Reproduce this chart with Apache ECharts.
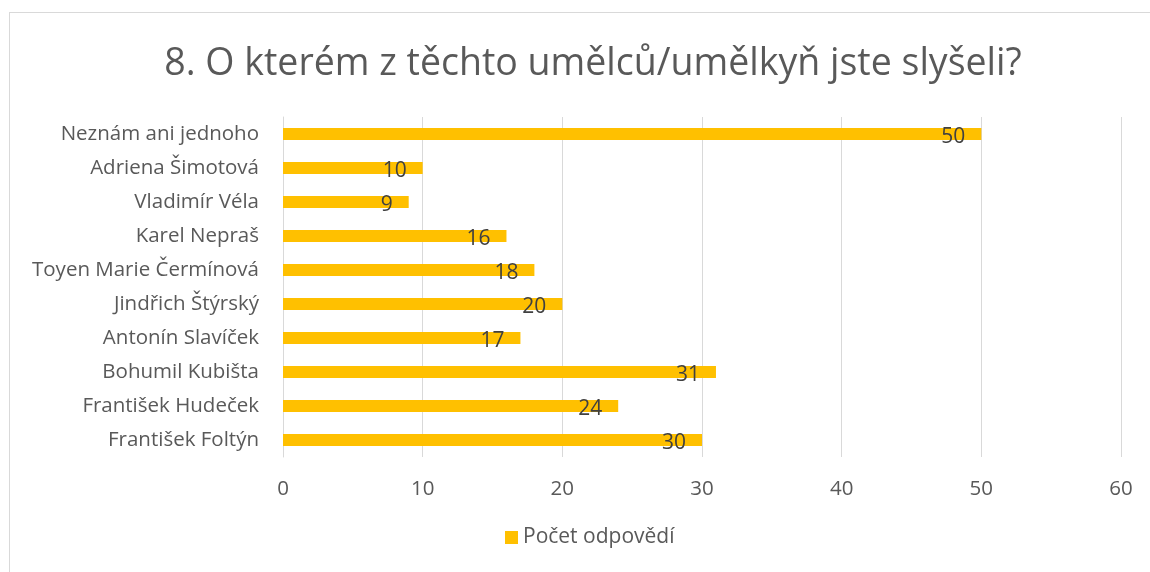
<!DOCTYPE html>
<html>
<head>
<meta charset="utf-8">
<script src="https://cdn.jsdelivr.net/npm/echarts@6/dist/echarts.min.js"></script>
<style>
  html, body { margin: 0; padding: 0; background: #fff; }
  #frame {
    position: absolute; left: 9px; top: 12px; width: 1160px; height: 580px;
    border-left: 1px solid #d9d9d9; border-top: 1px solid #d9d9d9;
  }
  #chart { position: absolute; left: 0; top: 0; width: 1150px; height: 572px; }
</style>
</head>
<body>
<div id="frame"></div>
<div id="chart"></div>
<script>
const title = "8. O kterém z těchto umělců/umělkyň jste slyšeli?";
const seriesName = "Počet odpovědí";
const categories = [
  "Neznám ani jednoho",
  "Adriena Šimotová",
  "Vladimír Véla",
  "Karel Nepraš",
  "Toyen Marie Čermínová",
  "Jindřich Štýrský",
  "Antonín Slavíček",
  "Bohumil Kubišta",
  "František Hudeček",
  "František Foltýn",
];
const counts = [50, 10, 9, 16, 18, 20, 17, 31, 24, 30];

const font = "'Open Sans', sans-serif";

var myChart = echarts.init(document.getElementById("chart"), null, { renderer: "canvas" });
var option = {
  animation: false,
  textStyle: { fontFamily: font },
  title: {
    text: title,
    left: 588,
    textAlign: "center",
    top: 40,
    textStyle: { fontFamily: font, fontSize: 37.5, fontWeight: "normal", color: "#595959" },
  },
  legend: {
    data: [seriesName],
    top: 527,
    left: 505,
    padding: 0,
    itemWidth: 13,
    itemHeight: 13,
    itemGap: 7,
    icon: "rect",
    textStyle: { fontFamily: font, fontSize: 21, color: "#595959" },
  },
  grid: { left: 283, right: 29, top: 117, bottom: 115, containLabel: false },
  xAxis: {
    type: "value",
    min: 0,
    max: 60,
    interval: 10,
    axisLine: { show: false },
    axisTick: { show: false },
    splitLine: { lineStyle: { color: "#d9d9d9", width: 1 } },
    axisLabel: { fontFamily: font, fontSize: 20.5, color: "#595959", margin: 22 },
  },
  yAxis: {
    type: "category",
    inverse: true,
    data: categories,
    axisLine: { show: true, lineStyle: { color: "#d9d9d9" } },
    axisTick: { show: false },
    axisLabel: { fontFamily: font, fontSize: 20.5, color: "#595959", margin: 24 },
  },
  series: [
    {
      name: seriesName,
      type: "bar",
      data: counts,
      barWidth: 12,
      itemStyle: { color: "#FFC000" },
      label: {
        show: true,
        position: "insideRight",
        distance: 16,
        offset: [0, 3],
        fontFamily: font,
        fontSize: 21,
        color: "#404040",
      },
    },
  ],
};
myChart.setOption(option);
</script>
</body>
</html>
